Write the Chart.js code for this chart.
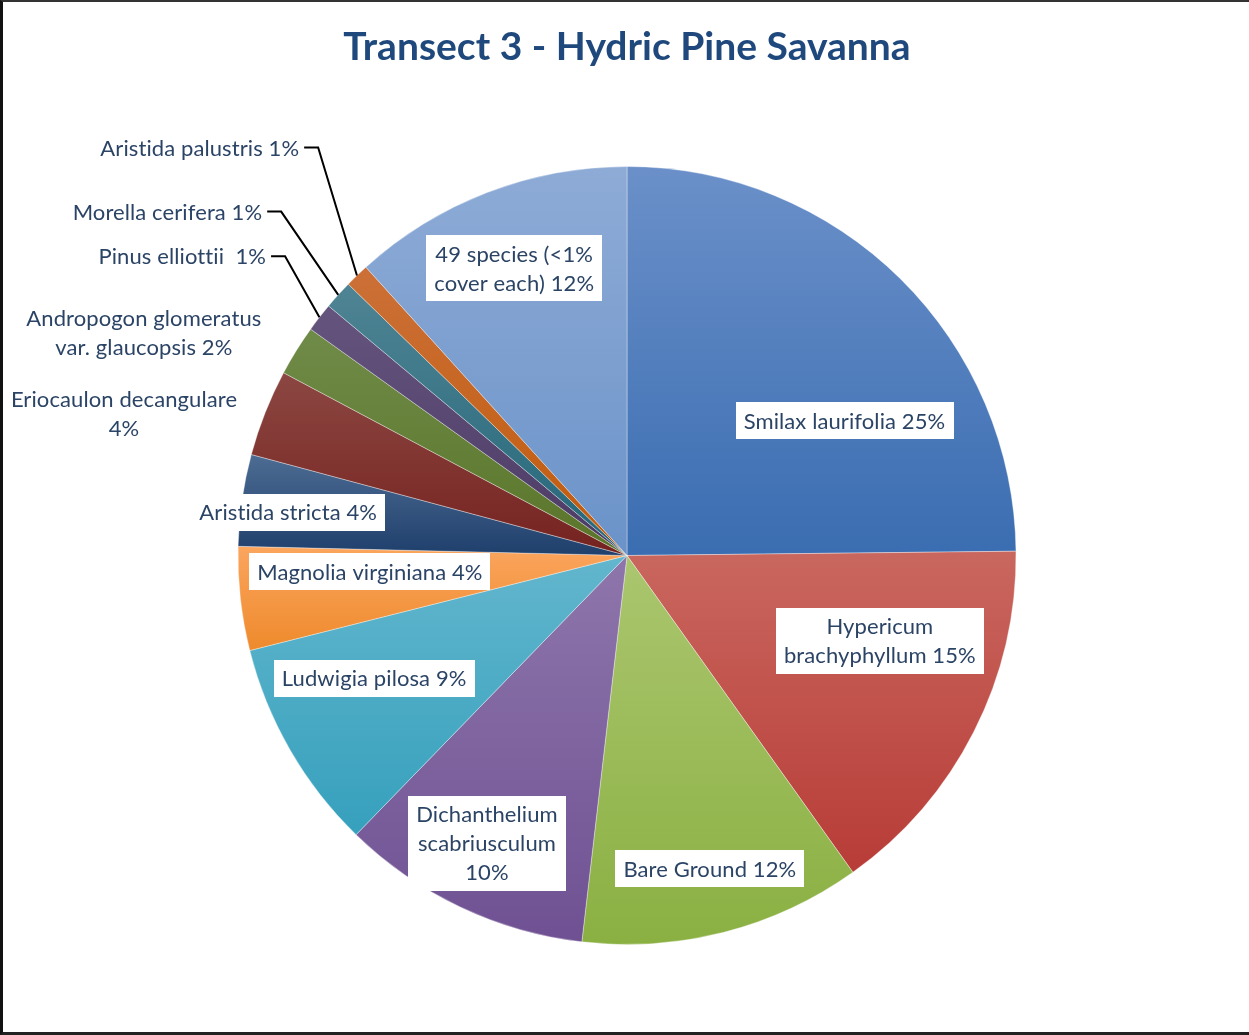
<!DOCTYPE html>
<html><head><meta charset="utf-8">
<script src="https://cdn.jsdelivr.net/npm/chart.js@4/dist/chart.umd.min.js"></script>
<style>
html,body{margin:0;padding:0;background:#fff;}
#wrap{position:relative;width:1249px;height:1035px;overflow:hidden;}
#frame{position:absolute;left:0;top:0;width:1249px;height:1035px;box-sizing:border-box;border-left:3px solid #111;border-top:2px solid #333;border-bottom:3px solid #222;pointer-events:none;}
canvas{position:absolute;left:0;top:0;}
</style></head><body>
<div id="wrap"><canvas id="c" width="1249" height="1035"></canvas><div id="frame"></div></div>
<script>
// ---- data ----
const chartTitle = 'Transect 3 - Hydric Pine Savanna';
const categories = [
  'Smilax laurifolia', 'Hypericum brachyphyllum', 'Bare Ground', 'Dichanthelium scabriusculum',
  'Ludwigia pilosa', 'Magnolia virginiana', 'Aristida stricta', 'Eriocaulon decangulare',
  'Andropogon glomeratus var. glaucopsis', 'Pinus elliottii ', 'Morella cerifera',
  'Aristida palustris', '49 species (<1% cover each)'
];
const coverValues = [24.8, 15.3, 11.7, 10.4, 8.8, 4.3, 3.8, 3.6, 2.1, 1.2, 1.2, 1.0, 11.7];

// ---- styles ----
const topColors = ['#6b90c9','#c9675f','#abc66f','#8e76ab','#62b6cd','#fba55e','#4d6c93','#8c4742','#6f8b48','#65557e','#4f8494','#cc7038','#8eabd6'];
const bottomColors = ['#3a6db1','#b83c37','#8ab042','#6f5193','#36a0bd','#ee8a2c','#1f3f6c','#75221f','#5a7529','#4a3a64','#236679','#c05b0b','#6b93c9'];

// label layout: position of label centre (or leader elbow) in radius units from pie centre
const labelLayout = [
  {fx: 0.559, fy: -0.346, box: true},
  {fx: 0.650, fy: 0.219, box: true, words: [1, 2]},
  {fx: 0.213, fy: 0.805, box: true},
  {fx: -0.360, fy: 0.740, box: true, words: [1, 1, 1]},
  {fx: -0.650, fy: 0.315, box: true},
  {fx: -0.661, fy: 0.042, box: true},
  {fx: -0.871, fy: -0.111, box: true},
  {fx: -1.293, fy: -0.365, box: false, words: [2, 1]},
  {fx: -1.242, fy: -0.573, box: false, words: [2, 3]},
  {fx: -0.879, fy: -0.769, leader: true},
  {fx: -0.889, fy: -0.884, leader: true},
  {fx: -0.794, fy: -1.049, leader: true},
  {fx: -0.290, fy: -0.738, box: true, words: [3, 3]}
];
const labelFont = '22px Lato';
const labelColor = '#2b4466';
const lineH = 29;

const gradientPlugin = {
  id: 'sliceGradient',
  beforeDatasetsDraw(chart) {
    const ctx = chart.ctx;
    chart.getDatasetMeta(0).data.forEach((arc, i) => {
      const {x, y, outerRadius, startAngle, endAngle} = arc.getProps(['x','y','outerRadius','startAngle','endAngle'], true);
      const ys = [y, y + outerRadius * Math.sin(startAngle), y + outerRadius * Math.sin(endAngle)];
      const has = a => { for (let k = -2; k <= 3; k++) { const t = a + k * 2 * Math.PI; if (t >= startAngle && t <= endAngle) return true; } return false; };
      if (has(Math.PI / 2)) ys.push(y + outerRadius);
      if (has(-Math.PI / 2)) ys.push(y - outerRadius);
      const t = Math.min(...ys), b = Math.max(...ys);
      const g = ctx.createLinearGradient(0, t, 0, b + 0.01);
      g.addColorStop(0, topColors[i]);
      g.addColorStop(1, bottomColors[i]);
      arc.options.backgroundColor = g;
    });
  }
};

const labelPlugin = {
  id: 'sliceLabels',
  afterDatasetsDraw(chart) {
    const ctx = chart.ctx;
    const total = coverValues.reduce((a, b) => a + b, 0);
    ctx.save();
    ctx.font = labelFont;
    if ('letterSpacing' in ctx) ctx.letterSpacing = '0.1px';
    ctx.textBaseline = 'middle';
    const leaders = [];
    chart.getDatasetMeta(0).data.forEach((arc, i) => {
      const {x, y, outerRadius: R, startAngle, endAngle} = arc.getProps(['x','y','outerRadius','startAngle','endAngle'], true);
      const L = labelLayout[i];
      const text = categories[i] + ' ' + Math.round(coverValues[i] / total * 100) + '%';
      const cx = x + L.fx * R, cy = y + L.fy * R;
      if (L.leader) {
        const mid = (startAngle + endAngle) / 2;
        const ax = x + R * Math.cos(mid), ay = y + R * Math.sin(mid);
        leaders.push([ax, ay, cx, cy, cx - 14, cy]);
        ctx.fillStyle = labelColor;
        ctx.textAlign = 'right';
        ctx.fillText(text, cx - 19, cy + 1);
        return;
      }
      let lines = [text];
      if (L.words) {
        const w = text.split(' ');
        lines = []; let p = 0;
        L.words.forEach(n => { lines.push(w.slice(p, p + n).join(' ')); p += n; });
      }
      const wmax = Math.max(...lines.map(s => ctx.measureText(s).width));
      const bw = wmax + 16, bh = lines.length * lineH + 8;
      if (L.box) {
        ctx.fillStyle = '#ffffff';
        ctx.fillRect(Math.round(cx - bw / 2), Math.round(cy - bh / 2), Math.round(bw), Math.round(bh));
      }
      ctx.fillStyle = labelColor;
      ctx.textAlign = 'center';
      lines.forEach((s, k) => {
        ctx.fillText(s, cx, cy + (k - (lines.length - 1) / 2) * lineH + 1);
      });
    });
    ctx.strokeStyle = '#000000';
    ctx.lineWidth = 2;
    leaders.forEach(p => {
      ctx.beginPath();
      ctx.moveTo(p[0], p[1]); ctx.lineTo(p[2], p[3]); ctx.lineTo(p[4], p[5]);
      ctx.stroke();
    });
    ctx.restore();
  }
};

new Chart(document.getElementById('c'), {
  type: 'pie',
  data: {
    labels: categories,
    datasets: [{
      data: coverValues,
      backgroundColor: bottomColors.slice(),
      borderColor: 'rgba(255,255,255,0.35)',
      borderWidth: 1
    }]
  },
  options: {
    responsive: false,
    animation: false,
    events: [],
    layout: {padding: {top: 0, left: 100, right: 95, bottom: 90}},
    plugins: {
      legend: {display: false},
      tooltip: {enabled: false},
      title: {
        display: true,
        text: chartTitle,
        color: '#1f497d',
        font: {family: 'Lato', size: 39, weight: 'bold'},
        padding: {top: 24.2, bottom: 95}
      }
    }
  },
  plugins: [gradientPlugin, labelPlugin]
});
</script>
</body></html>
